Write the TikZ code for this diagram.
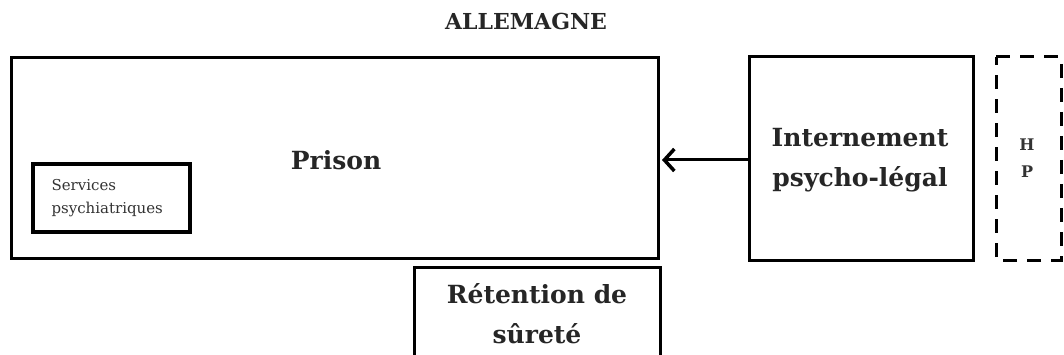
\documentclass[tikz,border=0pt]{standalone}
\usepackage{fontspec}
\setmainfont{DejaVu Serif}
\usetikzlibrary{arrows.meta}
\begin{document}
\begin{tikzpicture}[x=1pt,y=-1pt,
  box/.style={draw=black,line width=3pt,inner sep=0pt},
  lbl/.style={font=\fontsize{25}{40}\selectfont\bfseries,align=center,text=black!85},
  small/.style={font=\fontsize{15}{23}\selectfont,align=left,text=black!80}]
\useasboundingbox (0,0) rectangle (1064,355);
\clip (0,0) rectangle (1064,355);
% Title
\node[font=\fontsize{22}{24}\selectfont\bfseries,text=black!85] (title) at (526,21) {ALLEMAGNE};
% Prison
\draw[box] (11,58) rectangle (658,258);
\node (prisonbox) at (334.5,158) [minimum width=647pt,minimum height=200pt] {};
\node[lbl] (prison) at (336,160) {Prison};
% Services psychiatriques
\draw[draw=black,line width=4pt] (33,164) rectangle (190,232);
\node[small,anchor=west] (serv) at (48,198) {Services\\psychiatriques};
% Internement
\draw[box] (749,57) rectangle (973,260);
\node (intbox) at (861,158.5) [minimum width=224pt,minimum height=203pt] {};
\node[lbl] (int) at (860,160) {Internement\\psycho-légal};
% HP dashed
\draw[draw=black,line width=3pt,dash pattern=on 14pt off 10pt] (996,57) -- (1061,57) -- (1061,260) -- (996,260) -- cycle;
\node[font=\fontsize{16}{27}\selectfont\bfseries,text=black!80,align=center] (hp) at (1027,158) {H\\P};
% Rétention de sûreté
\draw[box] (414,267) rectangle (660,370);
\node[lbl] (ret) at (537,314) {Rétention de\\sûreté};
% Arrow
\coordinate (tip) at (662,160);
\draw[line width=3pt,-{Straight Barb[length=10pt,width=22pt,line width=3.5pt]}] (intbox.west |- tip) -- (tip);
\end{tikzpicture}
\end{document}
